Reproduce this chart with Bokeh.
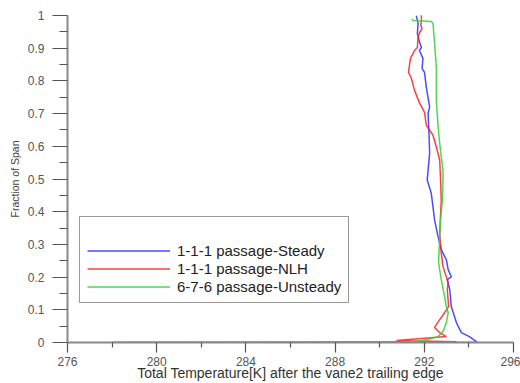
import math
from bokeh.plotting import figure
from bokeh.models import (Range1d, FixedTicker, NumeralTickFormatter, Legend, LegendItem)
from bokeh.embed import file_html
from bokeh.resources import INLINE

# ---- data ----
steady_T = [291.64, 291.72, 291.69, 291.79, 291.87, 291.78, 291.94, 291.90, 292.01, 292.09,
            292.24, 292.17, 292.21, 292.24, 292.17, 292.13, 292.31, 292.39, 292.46, 292.62,
            292.76, 292.99, 293.07, 293.21, 293.03, 293.14, 293.21, 293.44, 293.66, 294.02,
            294.34, 294.34, 278.0]
steady_F = [1.0, 0.976, 0.945, 0.918, 0.902, 0.893, 0.869, 0.838, 0.826, 0.780,
            0.720, 0.701, 0.640, 0.579, 0.527, 0.497, 0.457, 0.415, 0.375, 0.323,
            0.284, 0.253, 0.223, 0.201, 0.192, 0.162, 0.110, 0.061, 0.030, 0.018,
            0.003, 0.0, 0.0]

nlh_T = [291.72, 291.87, 291.87, 291.84, 291.90, 291.79, 291.72, 291.69, 291.56, 291.38,
         291.29, 291.42, 291.56, 291.79, 292.01, 292.09, 292.24, 292.39, 292.54, 292.69,
         292.73, 292.76, 292.69, 292.76, 292.84, 293.07, 293.03, 293.09, 292.91, 292.69,
         292.46, 292.69, 292.99, 290.75, 293.45, 278.0]
nlh_F = [1.006, 1.0, 0.985, 0.970, 0.960, 0.948, 0.933, 0.902, 0.893, 0.869,
         0.826, 0.808, 0.771, 0.732, 0.704, 0.665, 0.649, 0.634, 0.598, 0.558,
         0.497, 0.436, 0.335, 0.274, 0.232, 0.183, 0.162, 0.110, 0.091, 0.070,
         0.046, 0.030, 0.018, 0.006, 0.002, 0.0]

unsteady_T = [291.45, 291.49, 292.31, 292.39, 292.46, 292.54, 292.54, 292.62, 292.69, 292.76,
              292.84, 292.84, 292.81, 292.73, 292.69, 292.64, 292.76, 292.91, 292.99, 293.07,
              292.99, 292.84, 292.62, 292.17, 291.56, 290.97]
unsteady_F = [0.990, 0.985, 0.982, 0.976, 0.915, 0.841, 0.741, 0.659, 0.610, 0.567,
              0.527, 0.497, 0.436, 0.375, 0.323, 0.244, 0.192, 0.140, 0.110, 0.091,
              0.061, 0.034, 0.018, 0.009, 0.003, 0.0]

series_names = ["1-1-1 passage-Steady", "1-1-1 passage-NLH", "6-7-6 passage-Unsteady"]
x_ticks = [276, 280, 284, 288, 292, 296]
x_minor = [278, 282, 286, 290, 294]
y_ticks = [0, 0.1, 0.2, 0.3, 0.4, 0.5, 0.6, 0.7, 0.8, 0.9, 1.0]
y_minor = [0.05, 0.15, 0.25, 0.35, 0.45, 0.55, 0.65, 0.75, 0.85, 0.95]
x_title = "Total Temperature[K] after the vane2 trailing edge"
y_title = "Fraction of Span"

FONT = "Liberation Sans"

p = figure(width=520, height=383, output_backend="svg", toolbar_location=None,
           x_range=Range1d(276, 296), y_range=Range1d(0, 1),
           min_border_left=67, min_border_right=7, min_border_top=15, min_border_bottom=40)
p.outline_line_color = None
p.xgrid.visible = False
p.ygrid.visible = False
p.background_fill_color = "white"
p.border_fill_color = "white"

r_blue = p.line(steady_T, steady_F, line_color="#2b2bff", line_width=1.5, line_alpha=0.85)
r_red = p.line(nlh_T, nlh_F, line_color="#ff1f1f", line_width=1.5, line_alpha=0.85)
r_green = p.line(unsteady_T, unsteady_F, line_color="#3fd03f", line_width=1.5, line_alpha=0.9)

for ax in (p.xaxis[0], p.yaxis[0]):
    ax.axis_line_color = "#8a8a8a"
    ax.axis_line_width = 2
    ax.major_tick_line_color = "#555555"
    ax.minor_tick_line_color = "#555555"
    ax.major_tick_line_width = 1.2
    ax.minor_tick_line_width = 1.2
    ax.major_tick_in = 0
    ax.minor_tick_in = 0
    ax.major_label_text_font = FONT
    ax.major_label_text_color = "#555555"
    ax.axis_label_text_font = FONT
    ax.axis_label_text_font_style = "normal"

xa = p.xaxis[0]
xa.ticker = FixedTicker(ticks=x_ticks, minor_ticks=x_minor)
xa.major_tick_out = 10
xa.minor_tick_out = 5
xa.major_label_standoff = 4
xa.major_label_text_font_size = "12px"
xa.axis_label = x_title
xa.axis_label_text_font_size = "14px"
xa.axis_label_text_color = "#333333"
xa.axis_label_standoff = -4

ya = p.yaxis[0]
ya.ticker = FixedTicker(ticks=y_ticks, minor_ticks=y_minor)
ya.formatter = NumeralTickFormatter(format="0.[0]")
ya.major_tick_out = 15
ya.minor_tick_out = 8
ya.major_label_standoff = 8
ya.major_label_text_font_size = "12px"
ya.axis_label = y_title
ya.axis_label_text_font_size = "10.5px"
ya.axis_label_text_color = "#444444"
ya.axis_label_standoff = 4

legend = Legend(items=[LegendItem(label=series_names[0], renderers=[r_blue]),
                       LegendItem(label=series_names[1], renderers=[r_red]),
                       LegendItem(label=series_names[2], renderers=[r_green])],
                location=(12, 39), title=" ", title_text_font_size="14px", title_standoff=2,
                label_text_font=FONT, label_text_font_size="15px", label_text_color="#222222",
                glyph_width=83, glyph_height=17, label_height=17, label_standoff=7,
                spacing=1, padding=7, margin=0,
                border_line_color="#333333", border_line_width=1,
                background_fill_color="white", background_fill_alpha=1.0)
p.add_layout(legend, "center")

open("out.html", "w").write(file_html(p, INLINE))
